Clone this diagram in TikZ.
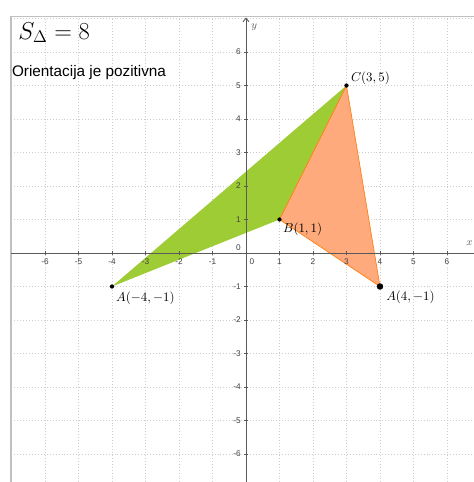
\documentclass[tikz,border=0pt]{standalone}
\usepackage{fontspec}
\setmainfont{Latin Modern Roman}
\newfontfamily\arialfont{Liberation Sans}
\usetikzlibrary{arrows.meta}
\definecolor{gridgray}{RGB}{205,205,205}
\definecolor{axisgray}{RGB}{90,90,90}
\definecolor{framegray}{RGB}{192,192,192}
\definecolor{ggreen}{RGB}{158,204,52}
\definecolor{gorange}{RGB}{255,170,125}
\definecolor{gorangeline}{RGB}{255,128,20}
\tikzset{
  gridline/.style={gridgray, dotted, line width=0.5pt},
  axisline/.style={axisgray, line width=0.8pt},
  ticklabel/.style={font=\arialfont\fontsize{7}{8}\selectfont, text=black!75, inner sep=0pt},
  ptlabel/.style={font=\fontsize{11}{12}\selectfont, anchor=west, inner sep=0pt},
  dotsmall/.style={circle, fill=black, inner sep=0pt, minimum size=3.6pt},
  dotbig/.style={circle, fill=black, inner sep=0pt, minimum size=5.5pt},
}
\begin{document}
\begin{tikzpicture}[x=1cm,y=1cm]
\useasboundingbox (-7.343,-6.836) rectangle (6.806,7.552);
\fill[white] (-7.343,-6.836) rectangle (6.806,7.552);
% grid
\foreach \i in {-6,...,6} \draw[gridline] (\i,-6.836) -- (\i,7.06);
\foreach \j in {-6,...,7} \draw[gridline] (-7.0,\j) -- (6.806,\j);
% frame
\draw[framegray, line width=1.6pt] (-7.02,-6.9) -- (-7.02,7.06) -- (6.9,7.06);
% points
\coordinate (A1) at (-4,-1);
\coordinate (B) at (1,1);
\coordinate (C) at (3,5);
\coordinate (A2) at (4,-1);
% polygons
\fill[ggreen] (A1) -- (B) -- (C) -- cycle;
\filldraw[fill=gorange, draw=gorangeline, line width=0.6pt, line join=round] (B) -- (C) -- (A2) -- cycle;
% axes
\coordinate (xs) at (-7.0,0);
\coordinate (xe) at (6.95,0);
\coordinate (ys) at (0,-6.9);
\coordinate (ye) at (0,7.03);
\draw[axisline, -{Straight Barb[length=3pt,width=5pt]}] (xs) -- (xe);
\draw[axisline, -{Straight Barb[length=3pt,width=5pt]}] (ys) -- (ye);
\node[font=\itshape\fontsize{9}{10}\selectfont, text=axisgray] (ylab) at (0.25,6.75) {$y$};
\node[font=\itshape\fontsize{9}{10}\selectfont, text=axisgray, anchor=east, inner sep=1pt] (xlab) at (6.806,0.3) {$x$};
% ticks and labels
\foreach \i in {-6,...,-1,1,2,...,6} {
  \draw[axisline, line width=0.5pt] (\i,-0.06) -- (\i,0.06);
  \node[ticklabel] at (\i,-0.27) {\ifnum\i<0 -\the\numexpr-\i\relax\else\i\fi};
}
\foreach \j in {-6,...,-1,1,2,...,6} {
  \draw[axisline, line width=0.5pt] (-0.06,\j) -- (0.06,\j);
  \node[ticklabel, anchor=east] at (-0.15,\j) {\ifnum\j<0 -\the\numexpr-\j\relax\else\j\fi};
}
\node[ticklabel] (x0) at (0.18,-0.25) {0};
\node[ticklabel, anchor=east] (y0) at (-0.15,0.15) {0};
% dots
\node[dotsmall] (dA1) at (A1) {};
\node[dotsmall] (dB) at (B) {};
\node[dotsmall] (dC) at (C) {};
\node[dotbig] (dA2) at (A2) {};
% labels
\node[ptlabel] (lA1) at (-3.88,-1.34) {$A(-4,-1)$};
\node[ptlabel] (lB) at (1.1,0.72) {$B(1,1)$};
\node[ptlabel] (lC) at (3.13,5.23) {$C(3,5)$};
\node[ptlabel] (lA2) at (4.18,-1.32) {$A(4,-1)$};
% texts
\node[anchor=west, inner sep=0pt, font=\fontsize{21}{24}\selectfont] (S) at (-6.8,6.58) {$S_{\Delta}=8$};
\node[anchor=west, inner sep=0pt, font=\arialfont\fontsize{13}{15}\selectfont] (O) at (-6.99,5.39) {Orientacija je pozitivna};
\end{tikzpicture}
\end{document}
